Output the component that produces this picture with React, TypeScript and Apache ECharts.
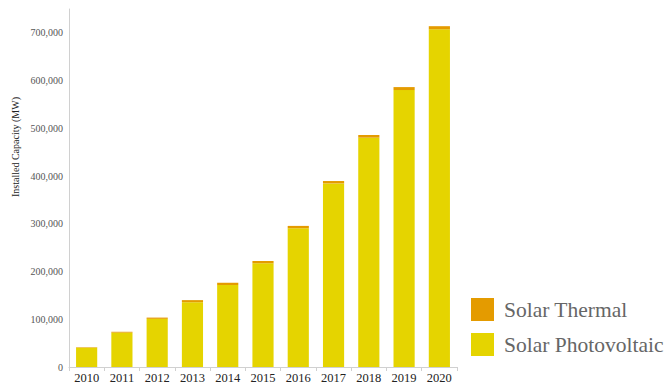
import React, { useEffect, useRef } from "react";
import * as echarts from "echarts";

const years = ["2010", "2011", "2012", "2013", "2014", "2015", "2016", "2017", "2018", "2019", "2020"];
const photovoltaic = [40300, 72000, 100900, 135700, 171800, 217200, 290700, 384600, 480400, 580200, 707500];
const thermal = [1300, 1800, 2600, 4400, 4700, 4800, 4900, 5000, 5600, 6200, 6500];
const seriesNames = ["Solar Thermal", "Solar Photovoltaic"];
const yTitle = "Installed Capacity (MW)";

const FONT = "'Liberation Serif', 'Times New Roman', serif";

export default function App() {
  const ref = useRef<HTMLDivElement>(null);
  useEffect(() => {
    const chart = echarts.init(ref.current!, null, { renderer: "svg" });
    chart.setOption({
      animation: false,
      grid: { left: 69, right: 210, top: 9, bottom: 18 },
      legend: {
        data: seriesNames,
        orient: "vertical",
        left: 471,
        top: 298,
        padding: 0,
        itemWidth: 23,
        itemHeight: 23,
        itemGap: 12,
        icon: "rect",
        textStyle: { fontFamily: FONT, fontSize: 21.5, color: "#666", padding: [0, 0, 0, 5] },
      },
      xAxis: {
        type: "category",
        data: years,
        axisLine: { lineStyle: { color: "#d0d0d0" } },
        axisTick: { show: true, length: 4, lineStyle: { color: "#d0d0d0" } },
        axisLabel: { fontFamily: FONT, fontSize: 12.5, color: "#222", margin: 4, interval: 0 },
      },
      yAxis: {
        type: "value",
        min: 0,
        max: 750000,
        interval: 100000,
        axisLine: { show: true, lineStyle: { color: "#d0d0d0" } },
        axisTick: { show: false },
        splitLine: { show: false },
        axisLabel: {
          fontFamily: FONT,
          fontSize: 10,
          color: "#555",
          margin: 6,
          showMaxLabel: false,
          formatter: (v: number) => v.toLocaleString("en-US"),
        },
      },
      graphic: [
        {
          type: "text",
          x: 15,
          y: 147,
          rotation: Math.PI / 2,
          style: {
            text: yTitle,
            fontFamily: FONT,
            fontSize: 10,
            fill: "#222",
            align: "center",
            verticalAlign: "middle",
          },
        },
      ],
      series: [
        {
          name: "Solar Photovoltaic",
          type: "bar",
          stack: "s",
          data: photovoltaic,
          barCategoryGap: "40%",
          itemStyle: { color: "#e5d400" },
        },
        {
          name: "Solar Thermal",
          type: "bar",
          stack: "s",
          data: thermal,
          itemStyle: { color: "#e49b00" },
        },
      ],
    });
    return () => chart.dispose();
  }, []);
  return <div ref={ref} style={{ width: 667, height: 385, position: "absolute", left: 0, top: 0 }} />;
}
